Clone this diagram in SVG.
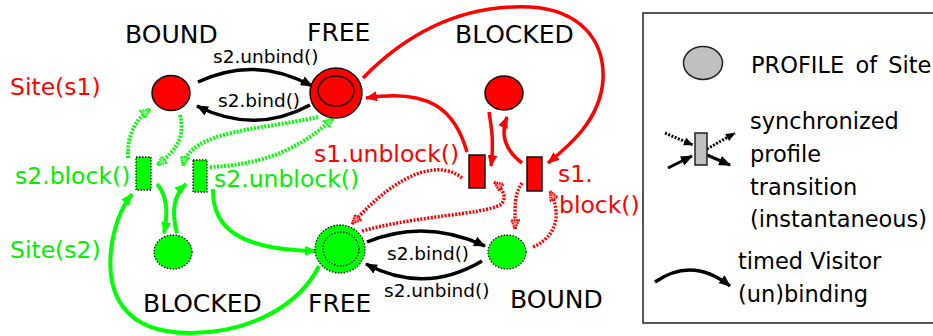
<svg xmlns="http://www.w3.org/2000/svg" width="933" height="336" viewBox="0 0 933 336">
<style>
text{font-family:"DejaVu Sans","Liberation Sans",sans-serif;}
.st{font-size:25px;fill:#000;}
.lbl{font-size:18.5px;fill:#000;}
.red{fill:#ff0000;}
.grn{fill:#00f000;}
.big{font-size:23.5px;}
.leg{font-size:22.5px;fill:#000;}
.rn{fill:#ff0000;stroke:#111;stroke-width:1.5;}
.gn{fill:#00ff00;stroke:#111;stroke-width:1.3;stroke-dasharray:1.5 1.5;}
.cb{fill:none;stroke:#000;stroke-width:3.5;}
.cr{fill:none;stroke:#ff0000;stroke-width:3.5;}
.cg{fill:none;stroke:#00ff00;stroke-width:4;}
.dr{fill:none;stroke:#ff0000;stroke-width:3.5;stroke-dasharray:2 1.5;}
.dg{fill:none;stroke:#00ff00;stroke-width:4;stroke-dasharray:2 1.5;}
.dk{fill:none;stroke:#000;stroke-width:3;stroke-dasharray:2 1.5;}
</style>
<defs>
<marker id="ab" viewBox="0 0 12 10" refX="11" refY="5" markerWidth="12" markerHeight="10" markerUnits="userSpaceOnUse" orient="auto"><path d="M0,0 L12,5 L0,10 z" fill="#000"/></marker>
<marker id="ar" viewBox="0 0 12 10" refX="11" refY="5" markerWidth="12" markerHeight="10" markerUnits="userSpaceOnUse" orient="auto"><path d="M0,0 L12,5 L0,10 z" fill="#ff0000"/></marker>
<marker id="ag" viewBox="0 0 12 10" refX="11" refY="5" markerWidth="12" markerHeight="10" markerUnits="userSpaceOnUse" orient="auto"><path d="M0,0 L12,5 L0,10 z" fill="#00ff00"/></marker>
<marker id="dar" viewBox="0 0 11 10" refX="10" refY="5" markerWidth="11" markerHeight="10" markerUnits="userSpaceOnUse" orient="auto"><path d="M1,1 L10,5 L1,9 z" fill="#ff9090" stroke="#ff0000" stroke-width="2.2" stroke-dasharray="1.5 1"/></marker>
<marker id="dag" viewBox="0 0 11 10" refX="10" refY="5" markerWidth="11" markerHeight="10" markerUnits="userSpaceOnUse" orient="auto"><path d="M1,1 L10,5 L1,9 z" fill="#90ff90" stroke="#00ff00" stroke-width="2.2" stroke-dasharray="1.5 1"/></marker>
<marker id="dak" viewBox="0 0 11 10" refX="10" refY="5" markerWidth="11" markerHeight="10" markerUnits="userSpaceOnUse" orient="auto"><path d="M1,1 L10,5 L1,9 z" fill="#000"/></marker>
</defs>

<g id="labels">
<text class="st" x="125" y="43">BOUND</text>
<text class="st" x="307" y="41">FREE</text>
<text class="st" x="455" y="43">BLOCKED</text>
<text class="st" x="143" y="312">BLOCKED</text>
<text class="st" x="308" y="312">FREE</text>
<text class="st" x="510" y="308">BOUND</text>
<text class="big red" x="10" y="95">Site(s1)</text>
<text class="big grn" x="10" y="258">Site(s2)</text>
</g>

<g id="connectors">
<path class="cb" d="M198,82 Q255,55 312,86" marker-end="url(#ab)"/>
<path class="cb" d="M310,105 Q255,135 197,106" marker-end="url(#ab)"/>
<path class="cb" d="M367,242 Q425,218 485,246" marker-end="url(#ab)"/>
<path class="cb" d="M482,261 Q425,295 366,264" marker-end="url(#ab)"/>

<path class="cg" d="M157,184 Q171,200 164,233" marker-end="url(#ag)"/>
<path class="cg" d="M177,233 Q168,200 186,184" marker-end="url(#ag)"/>
<path class="cg" d="M213,189 C212,228 240,250 316,251" marker-end="url(#ag)"/>
<path class="cg" d="M319,266 C300,305 250,333 190,333 C120,333 107,290 111,250 C114,225 121,208 132,194" marker-end="url(#ag)"/>

<path class="cr" d="M363,78 C420,20 480,5 530,7 C580,10 605,40 603,80 C600,120 570,145 548,163" marker-end="url(#ar)"/>
<path class="cr" d="M467,152 C455,110 430,88 366,98" marker-end="url(#ar)"/>
<path class="cr" d="M489,112 C492,130 494,145 491,166" marker-end="url(#ar)"/>
<path class="cr" d="M522,163 C505,150 500,135 507,117" marker-end="url(#ar)"/>

<path class="dr" d="M462,178 C440,160 400,170 352,224" marker-end="url(#dar)"/>
<path class="dr" d="M362,231 C420,215 480,215 500,205 C507,200 505,190 494,182" marker-end="url(#dar)"/>
<path class="dr" d="M522,183 C514,195 515,205 515,229" marker-end="url(#dar)"/>
<path class="dr" d="M533,247 C560,235 560,210 550,191" marker-end="url(#dar)"/>

<path class="dg" d="M128,158 C127,135 135,120 150,109" marker-end="url(#dag)"/>
<path class="dg" d="M180,115 C185,135 178,150 157,165" marker-end="url(#dag)"/>
<path class="dg" d="M318,117 C260,130 190,130 183,166" marker-end="url(#dag)"/>
<path class="dg" d="M210,167 C260,165 300,150 333,118" marker-end="url(#dag)"/>
</g>

<g id="s1-bound"><ellipse class="rn" cx="171" cy="93" rx="19" ry="17.5"/></g>
<g id="s1-free"><ellipse class="rn" cx="336" cy="93" rx="26" ry="25"/><ellipse class="rn" cx="336" cy="91" rx="18" ry="15"/></g>
<g id="s1-blocked"><ellipse class="rn" cx="504" cy="93" rx="19" ry="17"/></g>
<g id="s2-blocked"><ellipse class="gn" cx="173" cy="252" rx="19" ry="17"/></g>
<g id="s2-free"><ellipse class="gn" cx="340" cy="249" rx="25" ry="24"/><ellipse class="gn" cx="341" cy="249" rx="18" ry="17"/></g>
<g id="s2-bound"><ellipse class="gn" cx="507" cy="252" rx="19" ry="17"/></g>

<g id="s2-block"><rect class="gn" x="136" y="157" width="15" height="33"/><text class="big grn" x="15" y="184">s2.block()</text></g>
<g id="s2-unblock"><rect class="gn" x="193" y="160" width="14" height="32"/><text class="big grn" x="214" y="187">s2.unblock()</text></g>
<g id="s1-unblock"><rect class="rn" x="469" y="155" width="16" height="33"/><text class="big red" x="314" y="162">s1.unblock()</text></g>
<g id="s1-block"><rect class="rn" x="527" y="157" width="15" height="34"/><text class="big red" x="558" y="182">s1.</text><text class="big red" x="559" y="213">block()</text></g>

<g id="edge-labels">
<text class="lbl" x="213" y="63">s2.unbind()</text>
<text class="lbl" x="218" y="107">s2.bind()</text>
<text class="lbl" x="387" y="260">s2.bind()</text>
<text class="lbl" x="384" y="297">s2.unbind()</text>
</g>

<g id="legend">
<rect x="643" y="13" width="310" height="310" fill="none" stroke="#222" stroke-width="1.5"/>
<ellipse cx="703" cy="63" rx="19.5" ry="16.5" fill="#c0c0c0" stroke="#222" stroke-width="1.5"/>
<text class="leg" x="751" y="73" word-spacing="4">PROFILE of Site</text>
<path class="dk" d="M665,133 L693,145" marker-end="url(#dak)"/>
<path class="dk" d="M707,149 L735,133" marker-end="url(#dak)"/>
<path class="cb" d="M668,168 L692,156" marker-end="url(#ab)" style="stroke-width:3"/>
<path class="cb" d="M707,155 L730,165" marker-end="url(#ab)" style="stroke-width:3"/>
<rect x="695" y="133" width="12" height="32" fill="#c0c0c0" stroke="#222" stroke-width="1.5"/>
<text class="leg" x="750" y="129">synchronized</text>
<text class="leg" x="750" y="162">profile</text>
<text class="leg" x="750" y="195">transition</text>
<text class="leg" x="750" y="227">(instantaneous)</text>
<path class="cb" d="M655,282 Q692,256 730,286" marker-end="url(#ab)"/>
<text class="leg" x="738" y="269">timed Visitor</text>
<text class="leg" x="738" y="302">(un)binding</text>
</g>
</svg>
